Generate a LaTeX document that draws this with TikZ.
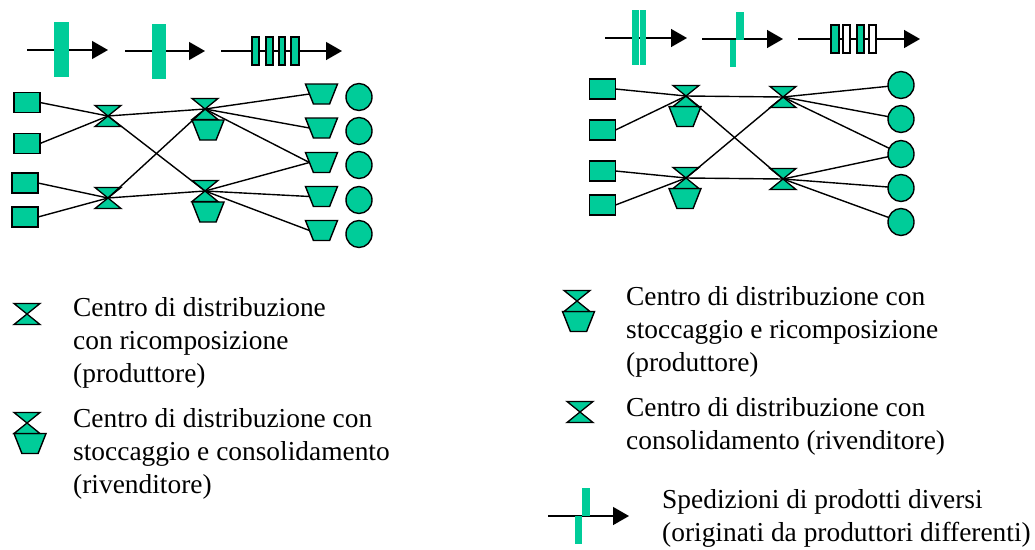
\documentclass[tikz,border=0pt]{standalone}
\usepackage{fontspec}
\setmainfont{Liberation Serif}
\usetikzlibrary{arrows.meta,shapes.geometric}
\definecolor{distgreen}{HTML}{00CC99}
\tikzset {>={Triangle[length=16pt,width=18pt]}}
\tikzset{
  site/.style={draw,fill=distgreen,line width=1.4pt,inner sep=0pt,outer sep=0pt},
  depot/.style={site,minimum width=26pt,minimum height=20pt},
  shop/.style={site,ellipse,minimum width=26pt,minimum height=27pt},
  store/.style={site,inner sep=1pt,trapezium,shape border rotate=180,trapezium angle=64,
    trapezium stretches=true,minimum width=32pt,minimum height=20pt},
  flow/.style={->,line width=1.4pt},
  label/.style={anchor=north west,inner sep=0pt,align=left,
    font=\fontsize{27.4}{33}\selectfont},
  hourglass/.pic={
    \draw[fill=distgreen,line width=1.3pt,line join=miter]
      (-13,-10.5) -- (13,-10.5) -- (-13,10.5) -- (13,10.5) -- cycle;
  }
}
\begin{document}
\begin{tikzpicture}[x=1pt,y=-1pt]
\useasboundingbox (0,0) rectangle (1035,549);

% flows, left
\path
  (27,50) coordinate (fa1) -- (108,50) coordinate (fa2)
  (125,51) coordinate (fb1) -- (205,51) coordinate (fb2)
  (221,51) coordinate (fc1) -- (342,51) coordinate (fc2);
\foreach \from/\to in {fa1/fa2,fb1/fb2,fc1/fc2}
  \draw[flow] (\from) -- (\to);
\fill[distgreen] (54,22) rectangle (69,77);
\fill[distgreen] (152,24) rectangle (166,79);
\foreach \xa/\xb in {252/259,266/273,279/285,291/299}
  \draw[fill=distgreen,line width=1.2pt] (\xa,37) rectangle (\xb,65);

% flows, right
\path
  (605,38) coordinate (ga1) -- (687,38) coordinate (ga2)
  (702,39) coordinate (gb1) -- (783,39) coordinate (gb2)
  (798,39) coordinate (gc1) -- (920,39) coordinate (gc2);
\foreach \from/\to in {ga1/ga2,gb1/gb2,gc1/gc2}
  \draw[flow] (\from) -- (\to);
\fill[distgreen] (632,10) rectangle (639,65);
\fill[distgreen] (640,10) rectangle (646,65);
\fill[distgreen] (736,12) rectangle (744,40);
\fill[distgreen] (730,40) rectangle (736,67);
\draw[fill=distgreen,line width=1.2pt] (831,25) rectangle (839,53);
\draw[fill=white,line width=1.2pt] (843,25) rectangle (850,53);
\draw[fill=distgreen,line width=1.2pt] (857,25) rectangle (864,53);
\draw[fill=white,line width=1.2pt] (869,25) rectangle (876,53);

% network, left
\foreach \name/\x/\y in {ls1/27/102.5,ls2/27/143.5,ls3/25/183,ls4/25/217}
  \node[depot] (\name) at (\x,\y) {};
\foreach \name/\y in {lt1/94,lt2/128,lt3/162.5,lt4/196.5,lt5/230.5}
  \node[store] (\name) at (321.5,\y) {};
\foreach \name/\y in {lc1/97,lc2/131,lc3/165,lc4/200,lc5/234}
  \node[shop] (\name) at (359,\y) {};
\node[store] (lw1) at (208,130) {};
\node[store] (lw2) at (208,212) {};
\foreach \name/\x/\y in {lh1/108/116,lh2/108/198,lh3/205/109,lh4/205/191} {
  \coordinate (\name) at (\x,\y);
  \pic at (\name) {hourglass};
}
\foreach \from/\to in {ls1.east/lh1,ls2.east/lh1,ls3.east/lh2,ls4.east/lh2,
    lh1/lh3,lh1/lh4,lh2/lh3,lh2/lh4,
    lh3/lt1.west,lh3/lt2.west,lh3/lt3.west,lh4/lt3.west,lh4/lt4.west,lh4/lt5.west}
  \draw[line width=1.4pt] (\from) -- (\to);

% network, right
\foreach \name/\y in {rs1/89,rs2/130,rs3/171,rs4/205}
  \node[depot] (\name) at (602.5,\y) {};
\foreach \name/\y in {rc1/85,rc2/119,rc3/154,rc4/188,rc5/222}
  \node[shop] (\name) at (901,\y) {};
\node[store] (rw1) at (685,116.5) {};
\node[store] (rw2) at (685,198.5) {};
\foreach \name/\x/\y in {rh1/686/96,rh2/686/178,rh3/783/97,rh4/783/179} {
  \coordinate (\name) at (\x,\y);
  \pic at (\name) {hourglass};
}
\foreach \from/\to in {rs1.east/rh1,rs2.east/rh1,rs3.east/rh2,rs4.east/rh2,
    rh1/rh3,rh1/rh4,rh2/rh3,rh2/rh4,
    rh3/rc1,rh3/rc2,rh3/rc3,rh4/rc3,rh4/rc4,rh4/rc5}
  \draw[line width=1.4pt] (\from) -- (\to);

% legend, left
\coordinate (key1) at (27,314);
\pic at (key1) {hourglass};
\coordinate (key2) at (27,423);
\node[store] (key2w) at (30,443.5) {};
\pic at (key2) {hourglass};
\node[label] (text1) at (73,297.3)
  {Centro di distribuzione\\con ricomposizione\\(produttore)};
\node[label] (text2) at (73,407.8)
  {Centro di distribuzione con\\stoccaggio e consolidamento\\(rivenditore)};

% legend, right
\coordinate (key3) at (577,301);
\node[store] (key3w) at (578.5,321.5) {};
\pic at (key3) {hourglass};
\coordinate (key4) at (580,412);
\pic at (key4) {hourglass};
\node[label] (text3) at (626,285.8)
  {Centro di distribuzione con\\stoccaggio e ricomposizione\\(produttore)};
\node[label] (text4) at (626,397.3)
  {Centro di distribuzione con\\consolidamento (rivenditore)};
\path (548,516) coordinate (ha1) -- (629,516) coordinate (ha2);
\draw[flow] (ha1) -- (ha2);
\fill[distgreen] (582,488) rectangle (590,516);
\fill[distgreen] (575,516) rectangle (582,544);
\node[label] (text5) at (662,489.3)
  {Spedizioni di prodotti diversi\\(originati da produttori differenti)};
\end{tikzpicture}
\end{document}
